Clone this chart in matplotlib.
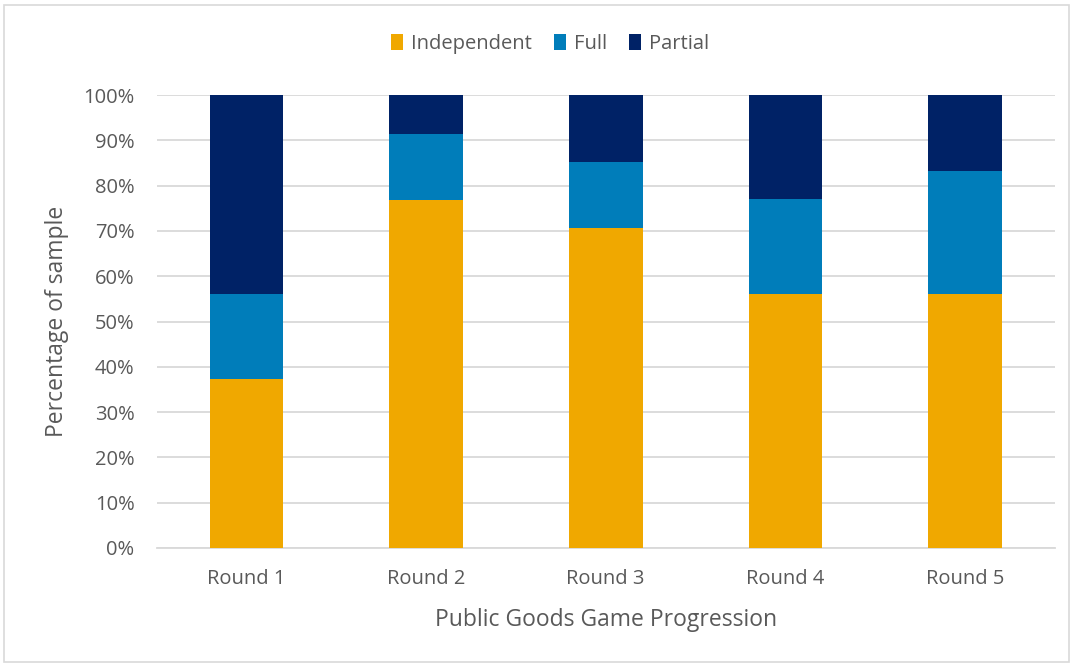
import matplotlib.pyplot as plt
import numpy as np
from matplotlib.patches import Rectangle

# --- Data (percent of sample) ---
rounds = ["Round 1", "Round 2", "Round 3", "Round 4", "Round 5"]
independent = [37.2, 76.9, 70.6, 56.0, 56.0]
full = [18.8, 14.5, 14.7, 21.0, 27.2]
partial = [44.0, 8.6, 14.7, 23.0, 16.8]

plt.rcParams['font.family'] = ['Open Sans', 'DejaVu Sans']
text_color = "#595959"

fig = plt.figure(figsize=(10.73, 6.65), dpi=100)
ax = fig.add_axes([0.146, 0.176, 0.837, 0.681])

x = np.arange(len(rounds))
w = 0.41
ind = np.array(independent)
fu = np.array(full)
pa = np.array(partial)
ax.bar(x, ind, w, color="#F0A800", label="Independent", zorder=3)
ax.bar(x, fu, w, bottom=ind, color="#007DBA", label="Full", zorder=3)
ax.bar(x, pa, w, bottom=ind + fu, color="#002266", label="Partial", zorder=3)

ax.set_xlim(-0.5, len(rounds) - 0.5)
ax.set_ylim(0, 100)
ax.set_yticks(range(0, 101, 10))
ax.set_yticklabels([f"{v}%" for v in range(0, 101, 10)])
ax.set_xticks(x)
ax.set_xticklabels(rounds)
ax.tick_params(length=0, labelsize=14.5, colors=text_color)
ax.tick_params(axis="y", pad=16)
ax.tick_params(axis="x", pad=15)
ax.yaxis.grid(True, color="#d9d9d9", linewidth=1.3, zorder=0)
for s in ["top", "right", "left"]:
    ax.spines[s].set_visible(False)
ax.spines["bottom"].set_color("#d9d9d9")
ax.spines["bottom"].set_linewidth(1.3)

ax.set_ylabel("Percentage of sample", fontsize=16.5, color=text_color, labelpad=10)
ax.set_xlabel("Public Goods Game Progression", fontsize=16.5, color=text_color, labelpad=14)

fig.legend(loc="center", bbox_to_anchor=(0.5126, 0.934), ncol=3, frameon=False,
           fontsize=14.5, labelcolor=text_color, handlelength=0.6, handleheight=0.9,
           handletextpad=0.4, columnspacing=1.1)

fig.patches.append(Rectangle((0.004, 0.004), 0.992, 0.989, transform=fig.transFigure,
                             fill=False, edgecolor="#d9d9d9", linewidth=1.2))

fig.savefig("out.png", dpi=100)
